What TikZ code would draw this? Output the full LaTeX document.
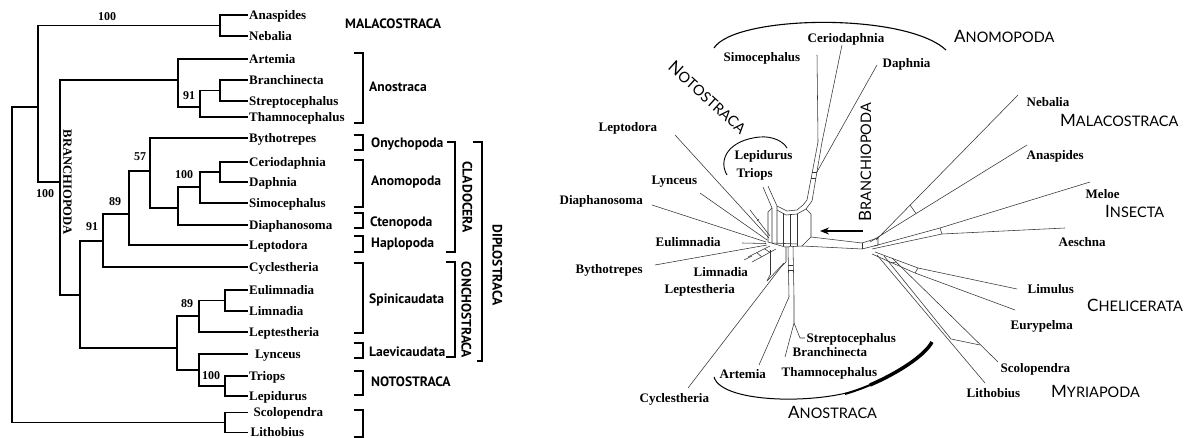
\documentclass[tikz,border=0pt]{standalone}
\usepackage{fontspec}
\setmainfont{Liberation Serif}
\newfontfamily\brsans{PT Sans}
\newfontfamily\cladefont{Lato}
\usetikzlibrary{arrows.meta}
\newcommand{\clname}[2]{{\fontsize{17}{17}\selectfont #1}{\fontsize{14.5}{14.5}\selectfont #2}}
\begin{document}
\begin{tikzpicture}[x=1pt,y=-1pt,
  taxon/.style={font=\bfseries\fontsize{13}{13}\selectfont, anchor=west, inner xsep=1.5pt, inner ysep=0pt, text height=8.5pt, text depth=0pt},
  boot/.style={font=\bfseries\fontsize{12}{12}\selectfont, inner sep=0pt},
  grp/.style={font=\brsans\bfseries\fontsize{13.6}{13.6}\selectfont, anchor=west, inner sep=0pt, text height=9pt, text depth=0pt},
  tree/.style={line width=1.6pt},
  brk/.style={line width=1.5pt},
  net/.style={line width=0.55pt, black!80},
  clade/.style={font=\cladefont, inner sep=0pt, anchor=west, text height=10pt, text depth=0pt}
]
\useasboundingbox (0,0) rectangle (1191,438);
\fill[white] (0,0) rectangle (1191,438);

% ---------------- left tree: leaves
\node[taxon] (tAna) at (247.5,15) {Anaspides};
\node[taxon] (tNeb) at (247.5,36) {Nebalia};
\node[taxon] (tArt) at (247.5,59) {Artemia};
\node[taxon] (tBra) at (247.5,80) {Branchinecta};
\node[taxon] (tStr) at (247.5,101) {Streptocephalus};
\node[taxon] (tTha) at (247.5,117) {Thamnocephalus};
\node[taxon] (tByt) at (247.5,138) {Bythotrepes};
\node[taxon] (tCer) at (247.5,162) {Ceriodaphnia};
\node[taxon] (tDap) at (247.5,182) {Daphnia};
\node[taxon] (tSim) at (247.5,203) {Simocephalus};
\node[taxon] (tDia) at (247.5,225) {Diaphanosoma};
\node[taxon] (tLep) at (247.5,245) {Leptodora};
\node[taxon] (tCyc) at (247.5,267) {Cyclestheria};
\node[taxon] (tEul) at (247.5,290) {Eulimnadia};
\node[taxon] (tLim) at (247.5,311) {Limnadia};
\node[taxon] (tLpt) at (247.5,332) {Leptestheria};
\node[taxon] (tLyn) at (253.5,354) {Lynceus};
\node[taxon] (tTri) at (247.5,376) {Triops};
\node[taxon] (tLpd) at (247.5,396) {Lepidurus};
\node[taxon] (tSco) at (252,412.5) {Scolopendra};
\node[taxon] (tLit) at (249,432.5) {Lithobius};

% internal nodes
\coordinate (R) at (12,265);
\coordinate (I1) at (38,107);
\coordinate (M) at (220,25.5);
\coordinate (O) at (225,422.5);
\coordinate (B) at (60,182);
\coordinate (An) at (178,80);
\coordinate (N91) at (200,107);
\coordinate (BS) at (220,90.5);
\coordinate (Rest) at (80,295);
\coordinate (D91) at (103,241);
\coordinate (C89) at (129,214);
\coordinate (C57) at (150,171);
\coordinate (AC) at (178,208);
\coordinate (Ano) at (200,187);
\coordinate (CD) at (220,172);
\coordinate (Conch) at (177,348);
\coordinate (S89) at (199,316);
\coordinate (EL) at (225,300.5);
\coordinate (LN) at (199,370);
\coordinate (TL) at (225,386);

\draw[tree] (tAna.west) -| (M) |- (tNeb.west);
\draw[tree] (M) -| (I1) |- (B);
\draw[tree] (I1) -| (R) |- (O);
\draw[tree] ([xshift=-4.5pt]tSco.west) -| (O) |- ([xshift=-1.5pt]tLit.west);
\draw[tree] (An) -| (B) |- (Rest);
\draw[tree] (tArt.west) -| (An) |- (N91);
\draw[tree] (BS) -| (N91) |- (tTha.west);
\draw[tree] (tBra.west) -| (BS) |- (tStr.west);
\draw[tree] (D91) -| (Rest) |- (Conch);
\draw[tree] (C89) -| (D91) |- (tCyc.west);
\draw[tree] (C57) -| (C89) |- (tLep.west);
\draw[tree] (tByt.west) -| (C57) |- (AC);
\draw[tree] (Ano) -| (AC) |- (tDia.west);
\draw[tree] (CD) -| (Ano) |- (tSim.west);
\draw[tree] (tCer.west) -| (CD) |- (tDap.west);
\draw[tree] (S89) -| (Conch) |- (LN);
\draw[tree] (EL) -| (S89) |- (tLpt.west);
\draw[tree] (tEul.west) -| (EL) |- (tLim.west);
\draw[tree] ([xshift=-6pt]tLyn.west) -| (LN) |- (TL);
\draw[tree] (tTri.west) -| (TL) |- (tLpd.west);

% bootstrap values
\node[boot] (b1) at (107,17) {100};
\node[boot] (b2) at (45,194) {100};
\node[boot] (b3) at (189,96) {91};
\node[boot] (b4) at (140,157) {57};
\node[boot] (b5) at (184,175) {100};
\node[boot] (b6) at (115,202) {89};
\node[boot] (b7) at (92,227) {91};
\node[boot] (b8) at (187,304) {89};
\node[boot] (b9) at (211,376) {100};

\node[font=\bfseries\fontsize{12.6}{13}\selectfont, rotate=-90, inner sep=0pt] (brL) at (67.5,182.5) {BRANCHIOPODA};

% brackets
\draw[brk] (354,53) -- (363,53) -- (363,123) -- (354,123);
\draw[brk] (354,135) -- (363,135) -- (363,150) -- (354,150);
\draw[brk] (354,160) -- (363,160) -- (363,207) -- (354,207);
\draw[brk] (354,213) -- (363,213) -- (363,228) -- (354,228);
\draw[brk] (354,236) -- (363,236) -- (363,252) -- (354,252);
\draw[brk] (354,263) -- (363,263) -- (363,333) -- (354,333);
\draw[brk] (354,343) -- (363,343) -- (363,358) -- (354,358);
\draw[brk] (354,371) -- (363,371) -- (363,395) -- (354,395);
\draw[brk] (354,410) -- (363,410) -- (363,437) -- (354,437);
\draw[brk] (447,142) -- (455,142) -- (455,252) -- (446,252);
\draw[brk] (446,262) -- (455,262) -- (455,357) -- (446,357);
\draw[brk] (473,142) -- (482,142) -- (482,361) -- (477,361);

\node[grp] (gMal) at (345,24) {MALACOSTRACA};
\node[grp] (gAno) at (369,87) {Anostraca};
\node[grp] (gOny) at (371,143) {Onychopoda};
\node[grp] (gAnm) at (371,181) {Anomopoda};
\node[grp] (gCte) at (370,222) {Ctenopoda};
\node[grp] (gHap) at (371,243) {Haplopoda};
\node[grp] (gSpi) at (369,299) {Spinicaudata};
\node[grp] (gLae) at (369,352) {Laevicaudata};
\node[grp] (gNot) at (371,382) {NOTOSTRACA};
\node[grp, anchor=center, rotate=-90] (gCla) at (467,197) {CLADOCERA};
\node[grp, anchor=center, rotate=-90] (gCon) at (466,310) {CONCHOSTRACA};
\node[grp, anchor=center, rotate=-90] (gDip) at (497,265) {DIPLOSTRACA};

% ---------------- right network
% tips
\coordinate (pSim) at (817,55);
\coordinate (pCer) at (842,45);
\coordinate (pDap) at (877,65);
\coordinate (pLpd) at (763,187);
\coordinate (pTri) at (768,186);
\coordinate (pLep) at (675,135);
\coordinate (pLyn) at (700,193);
\coordinate (pDia) at (652,205);
\coordinate (pEul) at (742,243);
\coordinate (pByt) at (655,265);
\coordinate (pLim) at (748,257);
\coordinate (pLpt) at (767,281);
\coordinate (pCyc) at (688,388);
\coordinate (pArt) at (759,365);
\coordinate (pBra) at (785,357);
\coordinate (pStr) at (800,338);
\coordinate (pStrT) at (805,338);
\coordinate (pNeb) at (1018,95);
\coordinate (pAna) at (1027,145);
\coordinate (pMel) at (1090,182);
\coordinate (pAes) at (1065,228);
\coordinate (pLmu) at (1017,289);
\coordinate (pEur) at (1015,310);
\coordinate (pSco) at (998,362);
\coordinate (pLit) at (985,383);

% central box
\draw[net] (pLpd) -- (772,208) -- (772,243);
\draw[net] (pTri) -- (777,206) -- (777,244);
\draw[net] (772,208) -- (768,212) -- (768,242);
\draw[net] (777,206) -- (787,211) -- (797,210) -- (803,205) -- (807,200);
\draw[net] (777,210) -- (786,215) -- (797,214) -- (806,209) -- (812,201);
\draw[net] (783,213) -- (783,246);
\draw[net] (790,214.5) -- (790,246.5);
\draw[net] (797,214) -- (797,246);
\draw[net] (806,209) -- (811,214) -- (811,237) -- (802,246);
\draw[net] (768,242) -- (785,247) -- (802,246);
\draw[net] (772,243) -- (797,244);
% Anomopoda stem
\draw[net] (807,200) -- (818,142);
\draw[net] (812,201) -- (822,142);
\draw[net] (812.3,172) -- (816.9,172);
\draw[net] (811.2,178) -- (815.7,178);
\draw[net] (pSim) -- (818,142);
\draw[net] (pCer) -- (822,142);
\draw[net] (pDap) -- (816.9,172);
% left fan
\draw[net] (pLep) -- (769,238);
\draw[net] (750,210) -- (770,236);
\draw[net] (757,221) -- (759,219);
\draw[net] (pLyn) -- (767,240);
\draw[net] (pDia) -- (766,242);
\draw[net] (pEul) -- (766,243.5);
\draw[net] (pByt) -- (767,245);
\draw[net] (pLim) -- (770,246);
\draw[net] (752,262) -- (776,249);
\draw[net] (756.8,252.6) -- (761.6,256.8);
\draw[net] (764.5,248.8) -- (770,252.3);
\draw[net] (744,260) -- (752,256);
% Leptestheria / Cyclestheria
\draw[net] (pCyc) -- (781,267) -- (786,262) -- (786,247);
\draw[net] (pLpt) -- (784,263);
\draw[net] (770,250) -- (770,275);
\draw[net] (770,275) -- (767,281);
% Anostraca stem
\draw[net] (788,247) -- (789,297);
\draw[net] (793,247) -- (794,297);
\draw[net] (788.4,265) -- (793.4,265);
\draw[net] (788.5,270) -- (793.5,270);
\draw[net] (789,297) -- (pArt);
\draw[net] (794,297) -- (794,323) -- (pBra);
\draw[net] (794,323) -- (pStr) -- (pStrT);
% right stem and fan
\draw[net] (811,237) -- (862,243);
\draw[net] (802,246) -- (862,249);
\draw[net] (862,243) -- (862,249);
\draw[net] (862,243) -- (878,238) -- (878,245) -- (862,249);
\draw[net] (pNeb) -- (876,240);
\draw[net] (pAna) -- (870,242);
\draw[net] (910,205) -- (916,213.5);
\draw[net] (pMel) -- (940,228) -- (874,246);
\draw[net] (pAes) -- (942,234) -- (872,249);
\draw[net] (940,228) -- (942,234);
\draw[net] (pLmu) -- (918,268) -- (875,252);
\draw[net] (pEur) -- (915,273) -- (872,254);
\draw[net] (918,268) -- (915,273);
\draw[net] (pLit) -- (877,255);
\draw[net] (884,256) -- (951,339) -- (980,345);
\draw[net] (pSco) -- (892,258);
\draw[net] (890,263) -- (897,262);

% network labels
\node[taxon] (nSim) at (722,57) {Simocephalus};
\node[taxon] (nCer) at (806,38) {Ceriodaphnia};
\node[taxon] (nDap) at (881,63) {Daphnia};
\node[taxon] (nLep) at (597,127) {Leptodora};
\node[taxon] (nLpd) at (733,155) {Lepidurus};
\node[taxon] (nTri) at (735,173) {Triops};
\node[taxon] (nLyn) at (650,180) {Lynceus};
\node[taxon, anchor=east] (nDia) at (644.5,200) {Diaphanosoma};
\node[taxon] (nEul) at (654,242) {Eulimnadia};
\node[taxon] (nByt) at (574,269) {Bythotrepes};
\node[taxon] (nLim) at (692,272) {Limnadia};
\node[taxon] (nLpt) at (663,289) {Leptestheria};
\node[taxon] (nStr) at (805,338) {Streptocephalus};
\node[taxon] (nBra) at (791,352) {Branchinecta};
\node[taxon] (nTha) at (780,372) {Thamnocephalus};
\node[taxon] (nArt) at (718,374) {Artemia};
\node[taxon] (nCyc) at (638,398) {Cyclestheria};
\node[taxon] (nNeb) at (1025,102) {Nebalia};
\node[taxon] (nAna) at (1025,155) {Anaspides};
\node[taxon] (nMel) at (1084,194) {Meloe};
\node[taxon] (nAes) at (1057,242) {Aeschna};
\node[taxon] (nLmu) at (1026,289) {Limulus};
\node[taxon] (nEur) at (1009,325) {Eurypelma};
\node[taxon] (nSco) at (999,368) {Scolopendra};
\node[taxon] (nLit) at (965,393) {Lithobius};

% clade names
\node[clade] (kAno) at (954,38) {\clname{A}{NOMOPODA}};
\node[clade] (kMal) at (1060,122) {\clname{M}{ALACOSTRACA}};
\node[clade] (kIns) at (1105,213) {\clname{I}{NSECTA}};
\node[clade] (kChe) at (1087,307) {\clname{C}{HELICERATA}};
\node[clade] (kMyr) at (1051,392) {\clname{M}{YRIAPODA}};
\node[clade] (kAns) at (788,413) {\clname{A}{NOSTRACA}};
\node[clade, anchor=center, rotate=-42] (kNot) at (707,98) {\clname{N}{OTOSTRACA}};
\node[clade, anchor=center, rotate=90] (kBra) at (866,162) {\clname{B}{RANCHIOPODA}};

% arcs
\draw[line width=1.1pt] (714,48) .. controls (735,15) and (905,12) .. (946,50);
\draw[line width=0.9pt] (727,175) .. controls (718,160) and (728,140) .. (760,137) .. controls (772,136) and (783,141) .. (787,148);
\draw[line width=1pt] (714,377) .. controls (722,405) and (830,405) .. (870,385);
\draw[line width=2pt] (845,394) .. controls (855,391) and (863,388) .. (870,385);
\draw[line width=3.5pt] (870,385) .. controls (900,372) and (925,355) .. (932,342);

% arrow
\coordinate (arS) at (863,231);
\coordinate (arE) at (820,231);
\draw[line width=1.3pt, -{Stealth[length=9pt,width=7pt]}] (arS) -- (arE);
\end{tikzpicture}
\end{document}
